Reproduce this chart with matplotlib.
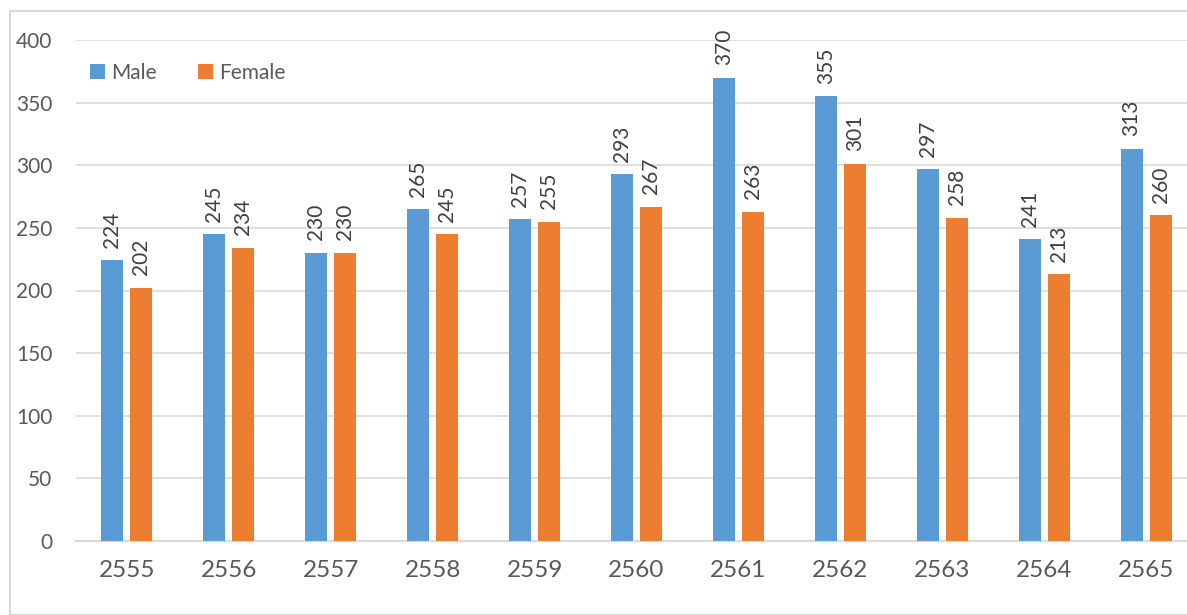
import numpy as np
import matplotlib.pyplot as plt
from matplotlib.patches import Rectangle

years = ['2555', '2556', '2557', '2558', '2559', '2560', '2561', '2562', '2563', '2564', '2565']
male = [224, 245, 230, 265, 257, 293, 370, 355, 297, 241, 313]
female = [202, 234, 230, 245, 255, 267, 263, 301, 258, 213, 260]

blue = '#5B9BD5'
orange = '#ED7D31'
txt = '#595959'
grid = '#D9D9D9'

plt.rcParams['font.family'] = ['Lato', 'DejaVu Sans']

fig = plt.figure(figsize=(11.87, 6.15), dpi=100)
# chart frame (right side runs off the image)
fig.patches.append(Rectangle((10/1187, 0), 1.2, 1 - 11/615, transform=fig.transFigure,
                             fill=False, edgecolor=grid, linewidth=1.5))

ax = fig.add_axes([76/1187, 74/615, 1121/1187, 501/615])

x = np.arange(len(years))
w = 0.216
off = 0.142
b1 = ax.bar(x - off, male, w, color=blue, label='Male', zorder=3)
b2 = ax.bar(x + off, female, w, color=orange, label='Female', zorder=3)

for bars, vals in ((b1, male), (b2, female)):
    for r, v in zip(bars, vals):
        ax.annotate(str(v), (r.get_x() + r.get_width() / 2, v), xytext=(0, 9),
                    textcoords='offset points', rotation=90, ha='center', va='bottom',
                    fontsize=15, color='#404040', annotation_clip=False)

ax.set_xlim(-0.5, len(years) - 0.5)
ax.set_ylim(0, 400)
ax.set_yticks(range(0, 401, 50))
ax.set_xticks(x)
ax.set_xticklabels(years)
ax.yaxis.grid(True, color=grid, linewidth=1.2, zorder=0)
ax.set_axisbelow(True)
for s in ['top', 'right', 'left']:
    ax.spines[s].set_visible(False)
ax.spines['bottom'].set_color(grid)
ax.spines['bottom'].set_linewidth(1.5)
ax.tick_params(axis='y', length=0, pad=17, labelsize=15, labelcolor=txt)
ax.tick_params(axis='x', length=0, pad=14, labelsize=17.5, labelcolor=txt)

ax.legend(loc='upper left', bbox_to_anchor=(0.005, 0.971), ncol=2, frameon=False,
          fontsize=15, labelcolor=txt, handlelength=0.7, handleheight=0.7,
          handletextpad=0.3, columnspacing=2.0, borderaxespad=0)

fig.savefig('out.png', dpi=100)
